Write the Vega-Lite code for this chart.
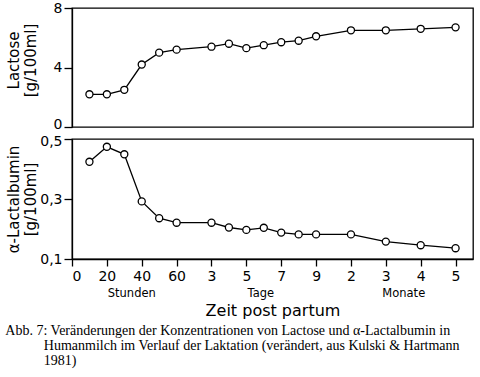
{
  "$schema": "https://vega.github.io/schema/vega-lite/v6.json",
  "padding": {"left": 5, "top": 0, "right": 3, "bottom": 0},
  "background": "white",
  "data": {"values": [
    {"pos": 0.5, "zeit": "10 h", "lactose": 2.2, "alpha": 0.424},
    {"pos": 1, "zeit": "20 h", "lactose": 2.2, "alpha": 0.474},
    {"pos": 1.5, "zeit": "30 h", "lactose": 2.5, "alpha": 0.449},
    {"pos": 2, "zeit": "40 h", "lactose": 4.2, "alpha": 0.292},
    {"pos": 2.5, "zeit": "50 h", "lactose": 5.0, "alpha": 0.236},
    {"pos": 3, "zeit": "60 h", "lactose": 5.2, "alpha": 0.221},
    {"pos": 4, "zeit": "3 d", "lactose": 5.4, "alpha": 0.221},
    {"pos": 4.5, "zeit": "4 d", "lactose": 5.6, "alpha": 0.205},
    {"pos": 5, "zeit": "5 d", "lactose": 5.3, "alpha": 0.197},
    {"pos": 5.5, "zeit": "6 d", "lactose": 5.5, "alpha": 0.204},
    {"pos": 6, "zeit": "7 d", "lactose": 5.7, "alpha": 0.188},
    {"pos": 6.5, "zeit": "8 d", "lactose": 5.8, "alpha": 0.182},
    {"pos": 7, "zeit": "9 d", "lactose": 6.1, "alpha": 0.182},
    {"pos": 8, "zeit": "2 M", "lactose": 6.5, "alpha": 0.182},
    {"pos": 9, "zeit": "3 M", "lactose": 6.5, "alpha": 0.158},
    {"pos": 10, "zeit": "4 M", "lactose": 6.6, "alpha": 0.146},
    {"pos": 11, "zeit": "5 M", "lactose": 6.7, "alpha": 0.136}
  ]},
  "title": {
    "text": [
      "Abb. 7: Veränderungen der Konzentrationen von Lactose und α-Lactalbumin in",
      "\u200b\u00a0\u00a0\u00a0\u00a0\u00a0\u00a0\u00a0\u00a0\u00a0\u00a0\u00a0Humanmilch im Verlauf der Laktation (verändert, aus Kulski & Hartmann",
      "\u200b\u00a0\u00a0\u00a0\u00a0\u00a0\u00a0\u00a0\u00a0\u00a0\u00a0\u00a01981)"
    ],
    "orient": "bottom",
    "anchor": "start",
    "font": "Liberation Serif",
    "fontSize": 14,
    "fontWeight": "normal",
    "color": "black",
    "lineHeight": 15,
    "offset": 5,
    "dx": 0
  },
  "spacing": 1,
  "vconcat": [
    {
      "width": 401,
      "height": 119,
      "encoding": {
        "x": {"field": "pos", "type": "quantitative", "scale": {"domain": [0, 11.5], "nice": false}, "axis": null},
        "y": {"field": "lactose", "type": "quantitative", "scale": {"domain": [0, 8], "nice": false},
              "axis": {"values": [0, 4, 8], "title": ["Lactose", "[g/100ml]"], "titleX": -66, "titleY": 52,
                       "labelOffset": {"condition": {"test": "datum.value == 0", "value": -3}, "value": 0}}}
      },
      "layer": [
        {"mark": {"type": "line", "color": "black", "strokeWidth": 1.3}},
        {"mark": {"type": "point", "shape": "circle", "filled": true, "fill": "white", "stroke": "black", "strokeWidth": 1.3, "size": 50, "opacity": 1}}
      ]
    },
    {
      "width": 401,
      "height": 120,
      "resolve": {"axis": {"x": "independent"}},
      "encoding": {
        "y": {"field": "alpha", "type": "quantitative", "scale": {"domain": [0.1, 0.5], "nice": false},
              "axis": {"values": [0.1, 0.3, 0.5], "labelExpr": "replace(format(datum.value, '.1f'), '.', ',')",
                       "title": ["α-Lactalbumin", "[g/100ml]"], "titleX": -66,
                       "labelOffset": {"condition": {"test": "datum.value == 0.5", "value": 2}, "value": 0}}}
      },
      "layer": [
        {
          "mark": {"type": "line", "color": "black", "strokeWidth": 1.3},
          "encoding": {
            "x": {"field": "pos", "type": "quantitative", "scale": {"domain": [0, 11.5], "nice": false},
                  "axis": {"orient": "bottom", "values": [0, 1, 2, 3, 4, 5, 6, 7, 8, 9, 10, 11],
                           "labelExpr": "['0','20','40','60','3','5','7','9','2','3','4','5'][datum.value]",
                           "title": null, "tickSize": 7, "labelPadding": 3}}
          }
        },
        {
          "mark": {"type": "point", "shape": "circle", "filled": true, "fill": "white", "stroke": "black", "strokeWidth": 1.3, "size": 50, "opacity": 1},
          "encoding": {
            "x": {"field": "pos", "type": "quantitative", "scale": {"domain": [0, 11.5], "nice": false},
                  "axis": {"orient": "bottom", "values": [1.7, 5.4, 9.5],
                           "labelExpr": "datum.value < 3 ? 'Stunden' : (datum.value < 8 ? 'Tage' : 'Monate')",
                           "ticks": false, "domain": false, "labelPadding": 28, "labelFontSize": 11.5,
                           "title": "Zeit post partum", "titleFontSize": 16, "titlePadding": 4}}
          }
        }
      ]
    }
  ],
  "config": {
    "view": {"stroke": "black", "strokeWidth": 1.3},
    "axis": {
      "grid": false,
      "labelFont": "DejaVu Sans",
      "labelFontSize": 14,
      "labelColor": "black",
      "titleFont": "DejaVu Sans",
      "titleFontSize": 15,
      "titleFontWeight": "normal",
      "titleColor": "black",
      "titleLineHeight": 17,
      "titleAngle": 270,
      "titleBaseline": "top",
      "domainColor": "black",
      "domainWidth": 1.3,
      "tickColor": "black",
      "tickWidth": 1.3,
      "tickSize": 8,
      "labelPadding": 2
    },
    "axisX": {"titleAngle": 0, "titleBaseline": "top"}
  }
}
